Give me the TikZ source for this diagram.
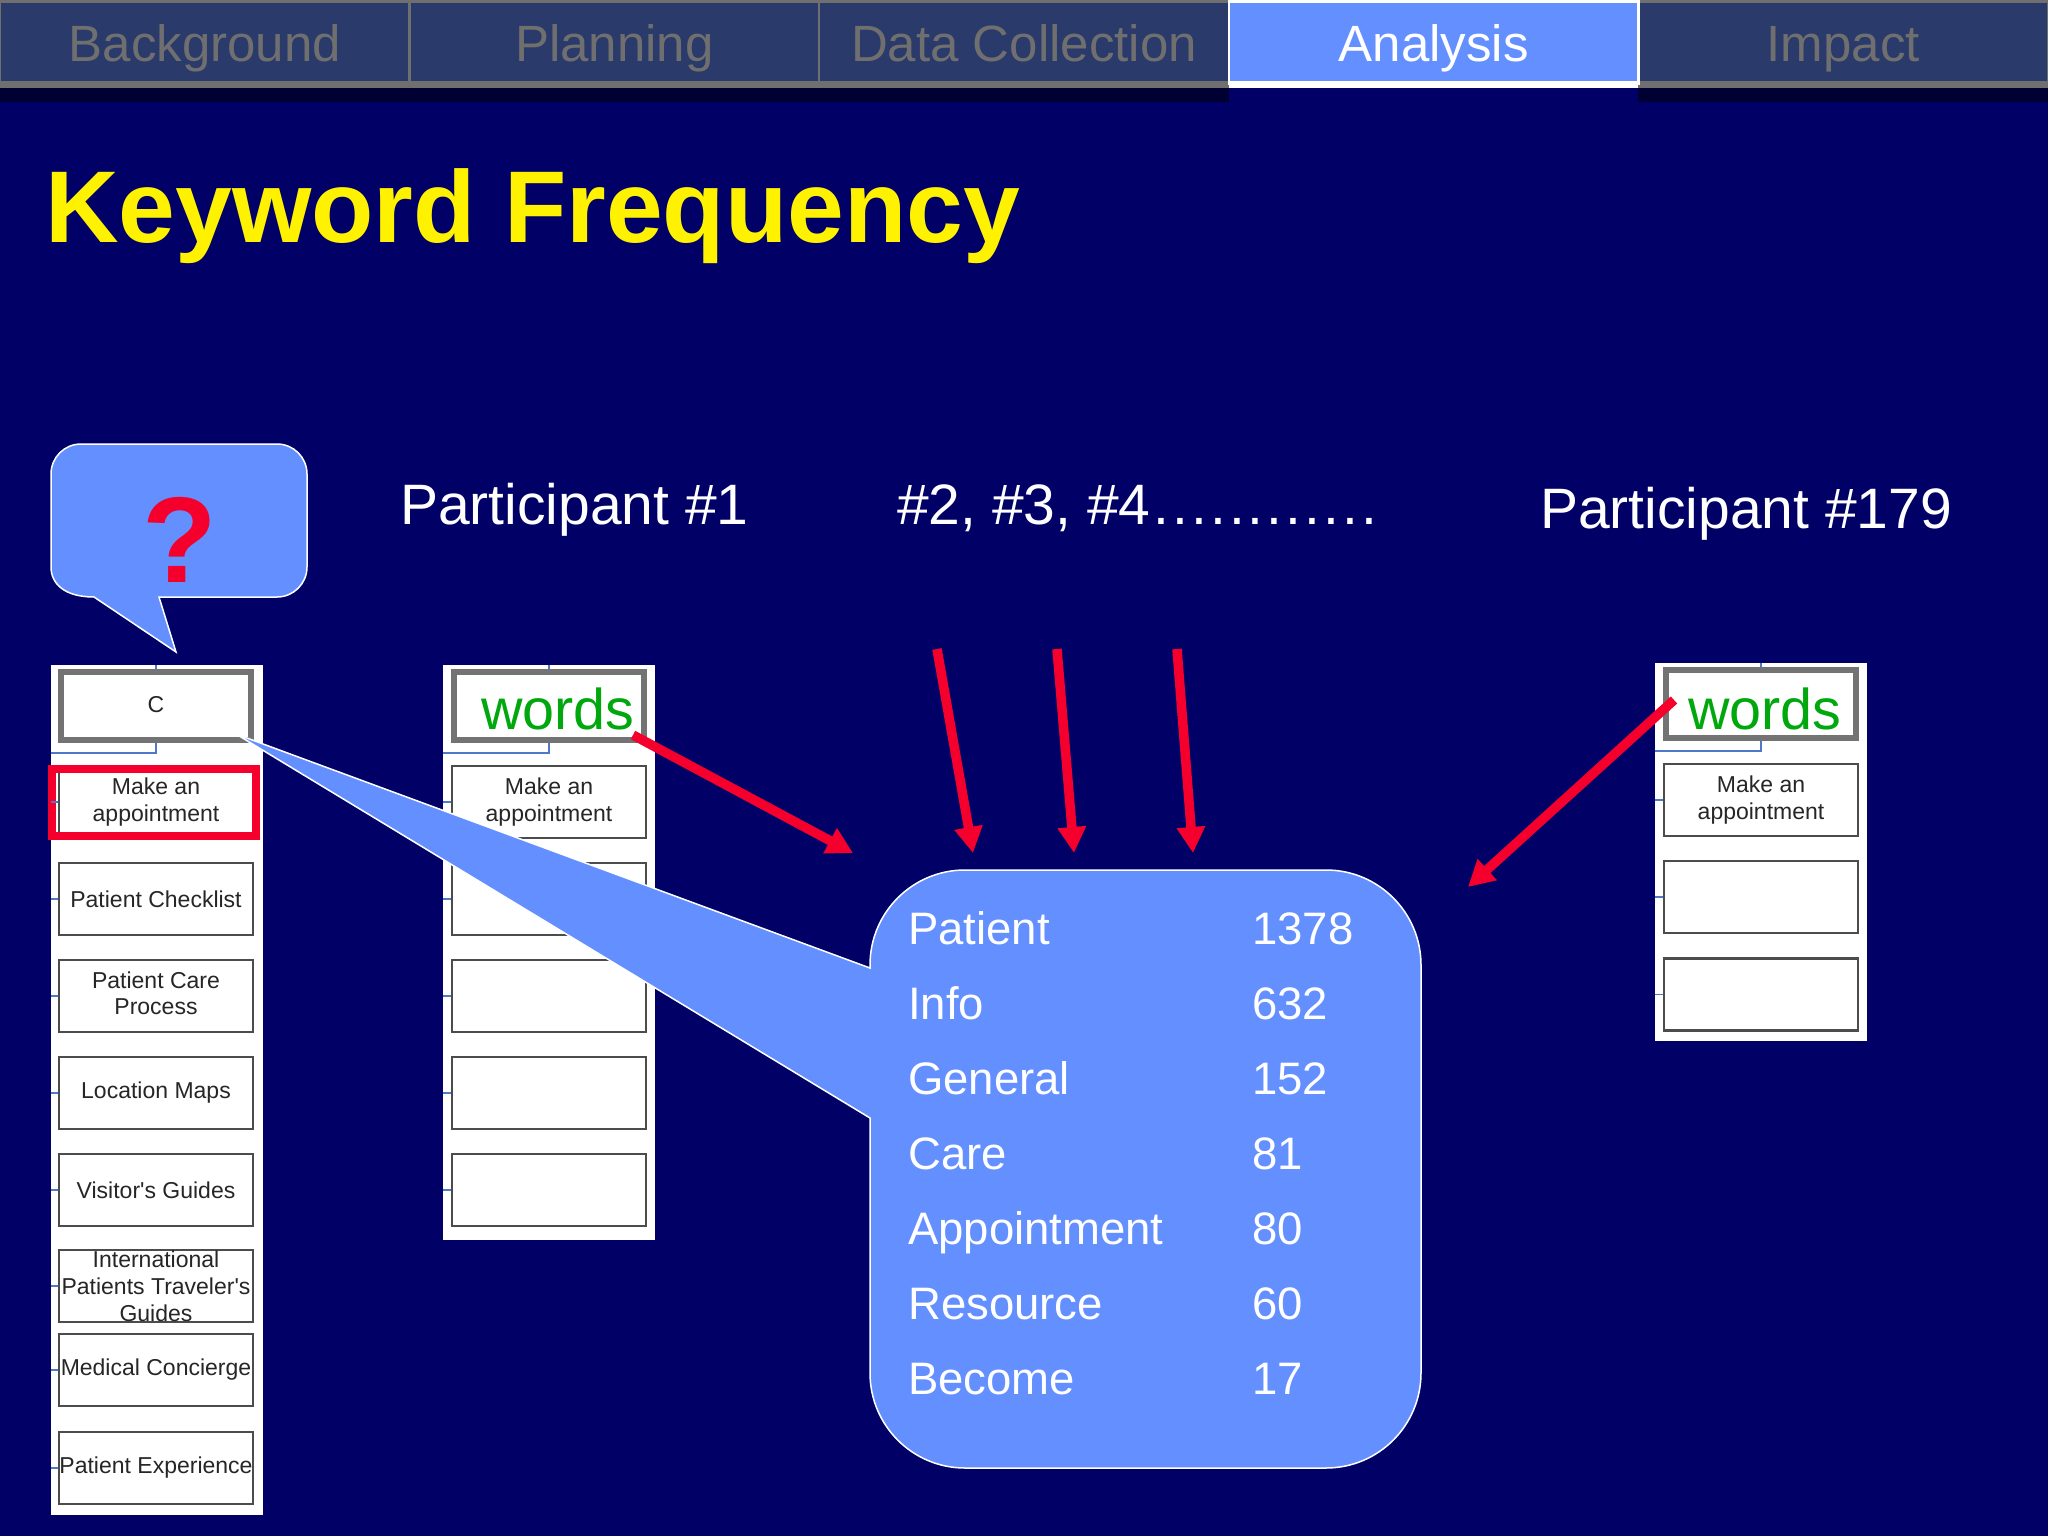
\documentclass[tikz,border=0pt]{standalone}
\usepackage{fontspec}
\setmainfont{Liberation Sans}
\newfontfamily\boxfont{Liberation Sans}
\usetikzlibrary{arrows.meta,calc}
\definecolor{slidebg}{HTML}{000066}
\definecolor{calloutblue}{HTML}{6490FF}
\definecolor{tabfill}{HTML}{2A3A6A}
\definecolor{tabedge}{HTML}{6F6F6F}
\definecolor{tabshadow}{HTML}{000033}
\definecolor{redarrow}{HTML}{F5002D}
\definecolor{wordgreen}{HTML}{00A80E}
\definecolor{stub}{HTML}{4F78C8}
\newcommand{\fsz}[2]{\fontsize{#1pt}{#2pt}\selectfont}
\newcommand{\sdot}{.\kern3pt}
\tikzset{
  x=1pt,y=-1pt,
  tabbox/.style={fill=tabfill,minimum width=409.6pt,minimum height=85pt,inner sep=0pt,outer sep=0pt,text height=49pt,text depth=10pt,text=tabedge,font=\fsz{51}{56}},
  tabactive/.style={tabbox,fill=calloutblue,text=white},
  tabtop/.style={line width=4pt},
  tabbottom/.style={line width=7pt},
  tabside/.style={line width=2.5pt},
  panelbox/.style={fill=white,inner sep=0pt,minimum width=212pt},
  sitebox/.style={draw=black!70,line width=2.4pt,fill=white,inner sep=0pt,minimum width=194pt,minimum height=72pt,align=center,text=black!85,font=\boxfont\fsz{23}{27}},
  topbox/.style={sitebox,draw=black!55,line width=5.5pt,minimum width=190pt,minimum height=68pt},
  linkline/.style={draw=stub,line width=1.6pt},
  redline/.style={draw=redarrow,line width=9.5pt,-{Triangle[length=26pt,width=27pt]}},
  bubble/.style={fill=calloutblue,draw=white,line width=1.5pt},
  heading/.style={anchor=base west,inner sep=0pt,text=white,font=\fsz{57}{62}},
  cell/.style={anchor=base west,inner sep=0pt,text=white,font=\fsz{45.5}{50}},
  wordlabel/.style={anchor=base west,inner sep=0pt,text=wordgreen,font=\fsz{57.5}{62}},
}
\begin{document}
\begin{tikzpicture}
\useasboundingbox (0,0) rectangle (2048,1536);
\fill[slidebg] (0,0) rectangle (2048,1536);
% navigation tabs
\fill[tabshadow] (0,80) rectangle (1229,102);
\fill[tabshadow] (1638,80) rectangle (2048,102);
\node[tabbox] (t1) at (204.8,42.5) {Background};
\node[tabbox] (t2) at (614.4,42.5) {Planning};
\node[tabbox] (t3) at (1024,42.5) {Data Collection};
\node[tabbox] (t5) at (1843.2,42.5) {Impact};
\node[tabactive] (t4) at (1433.6,42.5) {Analysis};
\foreach \t in {t1,t2,t3,t5}{
  \draw[tabedge,tabtop] ($(\t.north west)+(0,1.5)$) -- ($(\t.north east)+(0,1.5)$);
  \draw[tabedge,tabbottom] (\t.south west) -- (\t.south east);
  \draw[tabedge,tabside] (\t.north west) -- (\t.south west);
  \draw[tabedge,tabside] (\t.north east) -- (\t.south east);
}
\draw[white,tabtop] ($(t4.north west)+(0,1.5)$) -- ($(t4.north east)+(0,1.5)$);
\draw[white,tabbottom] (t4.south west) -- (t4.south east);
\draw[white,tabside] (t4.north west) -- (t4.south west);
\draw[white,tabside] (t4.north east) -- (t4.south east);
% title
\node[anchor=base west,inner sep=0pt,text=yellow,font=\fsz{102}{106}\bfseries] (title) at (45,242) {Keyword Frequency};
% left panel
\node[panelbox,minimum height=850pt] (pa) at (157,1090) {};
\node[topbox] (a0) at (156,706) {\raisebox{3pt}{C}};
\node[sitebox] (a1) at (156,802) {Make an\\appointment};
\node[sitebox] (a2) at (156,899) {Patient Checklist};
\node[sitebox] (a3) at (156,996) {\raisebox{2pt}{\begin{tabular}{@{}c@{}}Patient Care\\[-0.5pt]Process\end{tabular}}};
\node[sitebox] (a4) at (156,1093) {Location Maps};
\node[sitebox] (a5) at (156,1190) {Visitor's Guides};
\node[sitebox] (a6) at (156,1286) {International\\Patients Traveler's\\Guides};
\node[sitebox] (a7) at (156,1370) {Medical Concierge};
\node[sitebox] (a8) at (156,1468) {Patient Experience};
\node[draw=redarrow,line width=8pt,minimum width=204pt,minimum height=67pt,inner sep=0pt] (hl) at (154,802) {};
% middle panel
\node[panelbox,minimum height=575pt] (pb) at (549,952.5) {};
\node[topbox] (b0) at (549,706) {};
\node[sitebox] (b1) at (549,802) {Make an\\appointment};
\node[sitebox] (b2) at (549,899) {};
\node[sitebox] (b3) at (549,996) {};
\node[sitebox] (b4) at (549,1093) {};
\node[sitebox] (b5) at (549,1190) {};
\node[wordlabel] (bw) at (481,729) {words};
% right panel
\node[panelbox,minimum height=378pt] (pc) at (1761,852) {};
\node[topbox] (c0) at (1761,704) {};
\node[sitebox] (c1) at (1761,800) {Make an\\appointment};
\node[sitebox] (c2) at (1761,897) {};
\node[sitebox] (c3) at (1761,994.5) {};
\node[wordlabel] (cw) at (1688,729) {words};
% links inside panels
\foreach \p/\t in {pa/a,pb/b,pc/c}{
  \draw[linkline] (\t0.north |- \p.north) -- (\t0.north);
  \draw[linkline] (\t0.south) -- ++(0,10) coordinate (e\t) -- (\p.west |- e\t);
}
\foreach \t in {a1,a2,a3,a4,a5,a6,a7,a8}{\draw[linkline] (pa.west |- \t.west) -- (\t.west);}
\foreach \t in {b1,b2,b3,b4,b5}{\draw[linkline] (pb.west |- \t.west) -- (\t.west);}
\foreach \t in {c1,c2,c3}{\draw[linkline] (pc.west |- \t.west) -- (\t.west);}
% question bubble
\draw[bubble] (159,597) -- (277,597) .. controls (293.6,597) and (307,583.6) .. (307,567)
  -- (307,474) .. controls (307,457.4) and (293.6,444) .. (277,444)
  -- (81,444) .. controls (64.4,444) and (51,457.4) .. (51,474)
  -- (51,567) .. controls (51,583.6) and (64.4,597) .. (94,597)
  -- (176,652) -- cycle;
\node[text=redarrow,font=\fsz{122}{126}\bfseries,inner sep=0pt] (q) at (180,540) {?};
% keyword callout
\draw[bubble] (870,968) [rounded corners=95pt] -- (870,870) -- (1421,870) -- (1421,1468) -- (870,1468) [sharp corners] -- (870,1118) -- (236,734) -- cycle;
% headings
\node[heading] (h1) at (400,524) {Participant \#1};
\node[heading] (h2) at (897,524) {\#2, \#3, \#4\kern3pt\sdot\sdot\sdot\sdot\sdot\sdot\sdot\sdot\sdot\sdot\sdot.};
\node[heading] (h3) at (1540,528) {Participant \#179};
% table
\foreach \n/\w/\v/\y in {1/Patient/1378/944,2/Info/632/1019,3/General/152/1094,4/Care/81/1169,5/Appointment/80/1244,6/Resource/60/1319,7/Become/17/1394}{
  \node[cell] (k\n) at (908,\y) {\w};
  \node[cell] (v\n) at (1252,\y) {\v};
}
% red arrows
\coordinate (ba) at (633,735);
\coordinate (bb) at (853,853);
\coordinate (ca) at (1674,700);
\coordinate (cb) at (1468,887);
\coordinate (d1a) at (937,649);
\coordinate (d1b) at (973,853);
\coordinate (d2a) at (1057,649);
\coordinate (d2b) at (1074,853);
\coordinate (d3a) at (1177,649);
\coordinate (d3b) at (1193,853);
\draw[redline] (ba) -- (bb);
\draw[redline] (ca) -- (cb);
\draw[redline] (d1a) -- (d1b);
\draw[redline] (d2a) -- (d2b);
\draw[redline] (d3a) -- (d3b);
\end{tikzpicture}
\end{document}
